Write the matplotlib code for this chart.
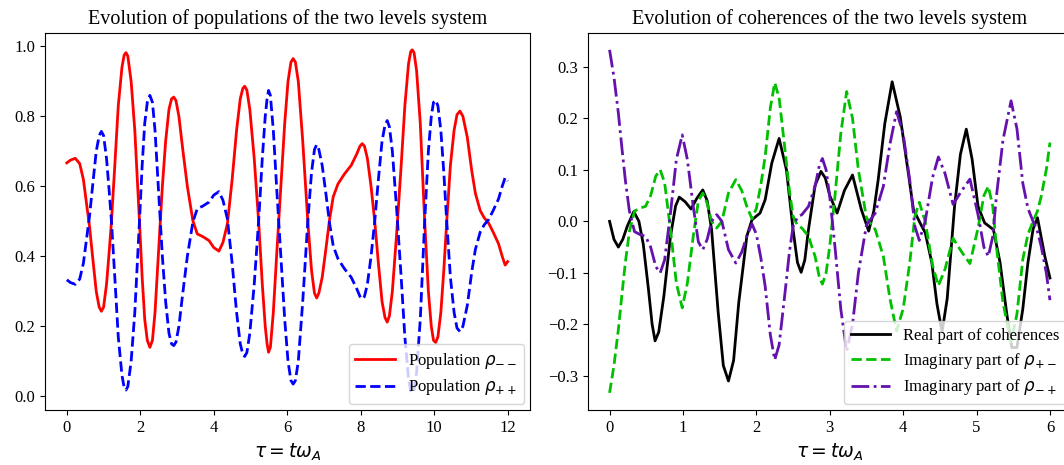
import matplotlib
matplotlib.use("Agg")
import matplotlib.pyplot as plt

plt.rcParams['font.family'] = ['Liberation Serif', 'DejaVu Serif']
plt.rcParams['mathtext.fontset'] = 'dejavusans'

# populations, tau from 0 to 12
t_pop = [0.00, 0.10, 0.23, 0.35, 0.45, 0.55, 0.62, 0.70, 0.80, 0.88, 0.94, 1.00, 1.08, 1.15,
         1.21, 1.30, 1.40, 1.50, 1.56, 1.61, 1.66, 1.75, 1.85, 1.98, 2.05, 2.12, 2.19, 2.26,
         2.33, 2.40, 2.50, 2.60, 2.69, 2.78, 2.85, 2.91, 2.97, 3.05, 3.15, 3.28, 3.43, 3.55,
         3.69, 3.87, 4.00, 4.14, 4.25, 4.37, 4.50, 4.62, 4.72, 4.79, 4.84, 4.90, 4.98, 5.10,
         5.22, 5.32, 5.40, 5.45, 5.49, 5.54, 5.62, 5.72, 5.83, 5.93, 6.02, 6.10, 6.16, 6.22,
         6.30, 6.42, 6.56, 6.66, 6.74, 6.80, 6.86, 6.95, 7.05, 7.15, 7.25, 7.38, 7.56, 7.74,
         7.88, 7.98, 8.04, 8.10, 8.18, 8.28, 8.38, 8.48, 8.58, 8.66, 8.72, 8.78, 8.86, 8.98,
         9.10, 9.20, 9.30, 9.36, 9.40, 9.45, 9.52, 9.62, 9.74, 9.84, 9.92, 9.98, 10.04, 10.10,
         10.18, 10.26, 10.34, 10.44, 10.54, 10.62, 10.70, 10.78, 10.90, 11.02, 11.12, 11.25,
         11.36, 11.48, 11.60, 11.75, 11.85, 11.93, 12.00]
rho_mm = [0.667, 0.675, 0.680, 0.665, 0.620, 0.540, 0.483, 0.400, 0.300, 0.255, 0.243, 0.255,
          0.320, 0.410, 0.493, 0.650, 0.830, 0.940, 0.975, 0.982, 0.972, 0.900, 0.760, 0.493,
          0.340, 0.220, 0.160, 0.140, 0.160, 0.240, 0.420, 0.600, 0.730, 0.820, 0.850, 0.855,
          0.845, 0.800, 0.710, 0.600, 0.502, 0.464, 0.457, 0.445, 0.425, 0.415, 0.440, 0.493,
          0.620, 0.760, 0.850, 0.880, 0.886, 0.875, 0.820, 0.680, 0.500, 0.320, 0.200, 0.150,
          0.126, 0.140, 0.240, 0.420, 0.607, 0.780, 0.900, 0.955, 0.965, 0.955, 0.900, 0.730,
          0.498, 0.360, 0.295, 0.281, 0.295, 0.340, 0.420, 0.505, 0.570, 0.607, 0.636, 0.660,
          0.690, 0.715, 0.722, 0.715, 0.680, 0.600, 0.500, 0.380, 0.270, 0.225, 0.212, 0.230,
          0.300, 0.470, 0.660, 0.830, 0.950, 0.985, 0.990, 0.982, 0.930, 0.780, 0.500, 0.300,
          0.200, 0.160, 0.154, 0.170, 0.240, 0.360, 0.500, 0.660, 0.760, 0.805, 0.815, 0.800,
          0.740, 0.645, 0.580, 0.531, 0.510, 0.495, 0.470, 0.436, 0.400, 0.375, 0.385]
rho_pp = [0.333, 0.325, 0.320, 0.335, 0.380, 0.460, 0.517, 0.600, 0.700, 0.745, 0.757, 0.745,
          0.680, 0.590, 0.507, 0.350, 0.170, 0.060, 0.025, 0.018, 0.028, 0.100, 0.240, 0.507,
          0.660, 0.780, 0.840, 0.860, 0.840, 0.760, 0.580, 0.400, 0.270, 0.180, 0.150, 0.145,
          0.155, 0.200, 0.290, 0.400, 0.498, 0.536, 0.543, 0.555, 0.575, 0.585, 0.560, 0.507,
          0.380, 0.240, 0.150, 0.120, 0.114, 0.125, 0.180, 0.320, 0.500, 0.680, 0.800, 0.850,
          0.874, 0.860, 0.760, 0.580, 0.393, 0.220, 0.100, 0.045, 0.035, 0.045, 0.100, 0.270,
          0.502, 0.640, 0.705, 0.719, 0.705, 0.660, 0.580, 0.495, 0.430, 0.393, 0.364, 0.340,
          0.310, 0.285, 0.278, 0.285, 0.320, 0.400, 0.500, 0.620, 0.730, 0.775, 0.788, 0.770,
          0.700, 0.530, 0.340, 0.170, 0.050, 0.015, 0.010, 0.018, 0.070, 0.220, 0.500, 0.700,
          0.800, 0.840, 0.846, 0.830, 0.760, 0.640, 0.500, 0.340, 0.240, 0.195, 0.185, 0.200,
          0.260, 0.355, 0.420, 0.469, 0.490, 0.505, 0.530, 0.564, 0.600, 0.625, 0.615]

# real part of the coherences, tau from 0 to 6
t_re = [0.00, 0.06, 0.12, 0.18, 0.24, 0.33, 0.40, 0.46, 0.53, 0.58, 0.62, 0.67, 0.74, 0.83,
        0.90, 0.95, 1.03, 1.11, 1.19, 1.27, 1.33, 1.39, 1.48, 1.55, 1.62, 1.69, 1.76, 1.87,
        1.94, 2.05, 2.12, 2.21, 2.31, 2.41, 2.50, 2.56, 2.61, 2.66, 2.71, 2.80, 2.88, 2.94,
        3.00, 3.10, 3.20, 3.31, 3.43, 3.53, 3.60, 3.66, 3.75, 3.85, 3.96, 4.07, 4.14, 4.23,
        4.30, 4.39, 4.46, 4.53, 4.60, 4.70, 4.78, 4.86, 4.94, 5.02, 5.11, 5.23, 5.32, 5.41,
        5.48, 5.55, 5.63, 5.70, 5.77, 5.83, 5.93, 6.00]
re_coh = [0.000, -0.035, -0.050, -0.035, -0.010, 0.019, 0.000, -0.045, -0.132, -0.200, -0.232,
          -0.215, -0.145, -0.029, 0.030, 0.047, 0.038, 0.024, 0.045, 0.061, 0.040, -0.016,
          -0.177, -0.280, -0.310, -0.270, -0.158, -0.029, 0.003, 0.016, 0.042, 0.113, 0.161,
          0.100, -0.016, -0.080, -0.099, -0.075, -0.016, 0.070, 0.097, 0.084, 0.050, 0.016,
          0.060, 0.090, 0.023, -0.019, 0.020, 0.081, 0.190, 0.271, 0.203, 0.094, 0.023,
          -0.003, -0.022, -0.080, -0.160, -0.215, -0.150, 0.029, 0.130, 0.179, 0.120, 0.029,
          -0.003, -0.016, -0.080, -0.178, -0.245, -0.245, -0.170, -0.080, -0.015, 0.007,
          -0.068, -0.110]

# imaginary parts of rho_{+-} and rho_{-+}
t_im = [0.00, 0.06, 0.12, 0.17, 0.215, 0.27, 0.34, 0.42, 0.49, 0.56, 0.63, 0.69, 0.75, 0.83,
        0.91, 0.99, 1.06, 1.14, 1.21, 1.27, 1.33, 1.39, 1.46, 1.53, 1.62, 1.72, 1.80, 1.87,
        1.94, 2.00, 2.06, 2.12, 2.19, 2.25, 2.31, 2.39, 2.45, 2.50, 2.56, 2.62, 2.71, 2.80,
        2.86, 2.90, 2.95, 3.00, 3.07, 3.15, 3.23, 3.31, 3.39, 3.50, 3.62, 3.73, 3.82, 3.91,
        4.00, 4.09, 4.16, 4.22, 4.30, 4.40, 4.48, 4.57, 4.68, 4.80, 4.91, 5.02, 5.10, 5.16,
        5.22, 5.27, 5.36, 5.47, 5.55, 5.63, 5.70, 5.77, 5.83, 5.88, 5.95, 6.00]
im_pm = [-0.333, -0.280, -0.210, -0.140, -0.080, -0.020, 0.020, 0.026, 0.029, 0.050, 0.088,
         0.100, 0.075, -0.016, -0.120, -0.168, -0.120, -0.029, 0.040, 0.055, 0.035, 0.000,
         -0.013, 0.000, 0.055, 0.081, 0.060, 0.029, 0.005, 0.025, 0.070, 0.126, 0.220, 0.269,
         0.240, 0.139, 0.060, 0.010, -0.008, -0.013, -0.029, -0.068, -0.110, -0.122, -0.100,
         -0.048, 0.048, 0.170, 0.252, 0.200, 0.100, 0.007, -0.016, -0.068, -0.150, -0.213,
         -0.170, -0.080, 0.010, 0.037, 0.000, -0.085, -0.125, -0.093, -0.033, -0.060, -0.082,
         -0.013, 0.050, 0.068, 0.030, -0.048, -0.158, -0.234, -0.180, -0.074, -0.025, 0.000,
         0.020, 0.048, 0.100, 0.153]
im_mp = [0.333, 0.280, 0.210, 0.140, 0.080, 0.020, -0.020, -0.026, -0.029, -0.050, -0.088,
         -0.100, -0.075, 0.016, 0.120, 0.168, 0.120, 0.029, -0.040, -0.055, -0.035, 0.000,
         0.013, 0.000, -0.055, -0.081, -0.060, -0.029, -0.005, -0.025, -0.070, -0.126, -0.220,
         -0.269, -0.240, -0.139, -0.060, -0.010, 0.008, 0.013, 0.029, 0.068, 0.110, 0.122,
         0.100, 0.048, -0.048, -0.170, -0.252, -0.200, -0.100, -0.007, 0.016, 0.068, 0.150,
         0.213, 0.170, 0.080, -0.010, -0.037, 0.000, 0.085, 0.125, 0.093, 0.033, 0.060, 0.082,
         0.013, -0.050, -0.068, -0.030, 0.048, 0.158, 0.234, 0.180, 0.074, 0.025, 0.000,
         -0.020, -0.048, -0.100, -0.153]

fig = plt.figure(figsize=(10.64, 4.65), dpi=100)
ax1 = fig.add_axes([0.0421, 0.1183, 0.4558, 0.8114])
ax2 = fig.add_axes([0.5522, 0.1183, 0.4553, 0.8114])

leg_kw = dict(loc='lower right', fontsize=12, handlelength=2.35, borderaxespad=0.35,
              labelspacing=0.4)

ax1.plot(t_pop, rho_mm, 'r-', lw=2, label=r'Population $\rho_{--}$')
ax1.plot(t_pop, rho_pp, 'b--', lw=2, label=r'Population $\rho_{++}$')
ax1.set_title('Evolution of populations of the two levels system', fontsize=14.5)
ax1.set_xlabel(r'$\tau = t\omega_A$', fontsize=13.5)
ax1.legend(**leg_kw)

ax2.plot(t_re, re_coh, 'k-', lw=2, label='Real part of coherences')
ax2.plot(t_im, im_pm, '--', color='#00c000', lw=2, label=r'Imaginary part of $\rho_{+-}$')
ax2.plot(t_im, im_mp, '-.', color='#6411ad', lw=2, label=r'Imaginary part of $\rho_{-+}$')
ax2.set_title('Evolution of coherences of the two levels system', fontsize=14.5)
ax2.set_xlabel(r'$\tau = t\omega_A$', fontsize=13.5)
ax2.legend(**leg_kw)

for ax in (ax1, ax2):
    ax.tick_params(labelsize=12)

fig.savefig('out.png', dpi=100)
